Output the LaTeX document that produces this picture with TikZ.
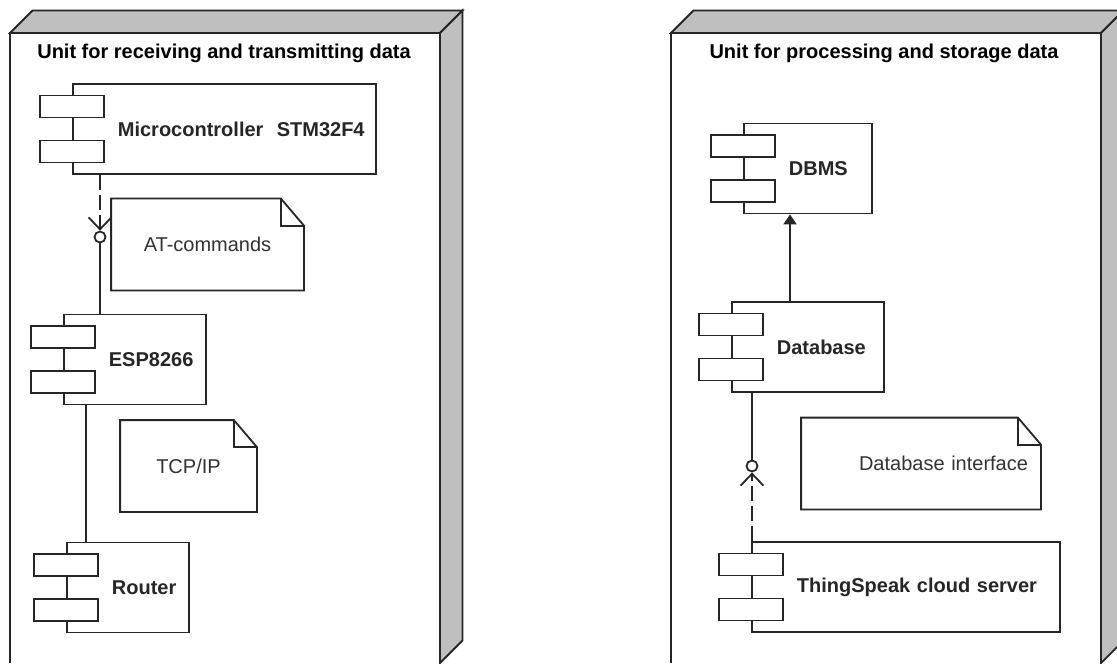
\documentclass[tikz,border=0pt]{standalone}
\usepackage{fontspec}
\setmainfont{Liberation Sans}
\usetikzlibrary{arrows.meta}

\begin{document}
\begin{tikzpicture}[x=0.5pt, y=-0.5pt, line width=0.9pt, color=black!85,
  component/.style={draw, fill=white, minimum height=45pt, inner xsep=0pt,
    text width=#1, align=left, font=\bfseries,
    execute at begin node={\hspace*{22.5pt}}},
  part/.style={draw, fill=white, minimum width=32pt, minimum height=11pt, inner sep=0pt},
  note/.style={minimum width=#1, minimum height=45pt, inner sep=0pt, text=black!80},
  iface/.style={draw, fill=white, circle, minimum size=5.5pt, inner sep=0pt},
  uses/.style={dash pattern=on 7.5pt off 2.5pt, -{Straight Barb[length=6pt,width=11.5pt]}},
  title/.style={font=\bfseries, text=black}]
\useasboundingbox (0,0) rectangle (1117,663);
\clip (0,0) rectangle (1117,663);

% The two 3D device nodes
\foreach \px in {10,671} {
  \filldraw[fill=gray!50] (\px,33) -- (\px+22.5,10.5) -- (\px+452.5,10.5) -- (\px+430,33) -- cycle;
  \filldraw[fill=gray!50] (\px+430,33) -- (\px+452.5,10.5) -- (\px+452.5,640.5) -- (\px+430,663) -- cycle;
  \draw[fill=white] (\px,663) -- (\px,33) -- (\px+430,33) -- (\px+430,663);
}
\node[title] (lefttitle) at (224,53) {Unit for receiving and transmitting data};
\node[title] (righttitle) at (884,53) {Unit for processing and storage data};

% Components
\node[component=151.5pt, anchor=west] (micro) at (72,129) {Microcontroller\ \ STM32F4};
\node[component=71pt, anchor=west] (esp) at (63,359.5) {ESP8266};
\node[component=61pt, anchor=west] (router) at (66,587.5) {Router};
\node[component=64pt, anchor=west] (dbms) at (743,168.5) {DBMS};
\node[component=76pt, anchor=west] (database) at (731,347) {Database};
\node[component=154pt, anchor=west] (thing) at (751,587) {ThingSpeak cloud server};
\foreach \c in {micro,esp,router,dbms,database,thing} {
  \node[part] (\c-p1) at ([yshift=11.25pt]\c.west) {};
  \node[part] (\c-p2) at ([yshift=-11.25pt]\c.west) {};
}

% Notes with the folded corner
\node[note=95.5pt] (atnote) at (207.5,244.5) {AT-commands};
\node[note=67.5pt] (tcpnote) at (188.5,466) {TCP/IP};
\node[note=119pt, text width=107pt, align=right] (dbnote) at (921,463.5) {Database interface};
\foreach \n in {atnote,tcpnote,dbnote} {
  \draw (\n.south west) -- (\n.north west) -- ([xshift=-11.5pt]\n.north east)
    -- ([yshift=-13.5pt]\n.north east) -- (\n.south east) -- cycle;
  \draw ([xshift=-11.5pt]\n.north east) |- ([yshift=-13.5pt]\n.north east);
}

% Interfaces and links
\node[iface] (atif) at (100,237) {};
\node[iface] (dbif) at (752,466) {};
\draw[uses] (micro.south -| atif) -- (atif.north);
\draw (atif) -- (atif |- esp.north);
\draw ([xshift=11.5pt]esp.south west) -- ([xshift=11.5pt]esp.south west |- router.north);
\draw[-{Triangle[length=5pt,width=6.5pt]}] ([xshift=29.5pt]database.north west)
  -- ([xshift=29.5pt]database.north west |- dbms.south);
\draw (dbif) -- (dbif |- database.south);
\draw[uses] (dbif |- thing.north) -- (dbif.south);
\end{tikzpicture}
\end{document}
